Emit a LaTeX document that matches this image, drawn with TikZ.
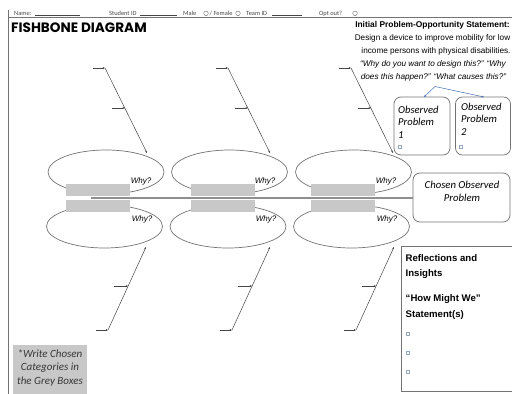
\documentclass[tikz,border=0pt]{standalone}
\usepackage{fontspec}
\setmainfont{Liberation Sans}
\newfontfamily\calib{Carlito}
\newfontfamily\popp{Poppins}
\usetikzlibrary{arrows.meta,shapes.geometric}
\definecolor{boxgrey}{RGB}{200,200,200}
\definecolor{linegrey}{RGB}{115,115,115}
\definecolor{bonegrey}{RGB}{70,70,70}
\definecolor{bluelink}{RGB}{70,110,175}
\definecolor{bulletc}{RGB}{150,165,195}
\definecolor{hdrgrey}{RGB}{70,70,70}
\tikzset{
  oval/.style={draw=linegrey, line width=0.7pt, ellipse, minimum width=116pt, minimum height=44pt, inner sep=0pt},
  gbox/.style={fill=boxgrey, minimum width=64pt, minimum height=12.5pt, inner sep=0pt},
  bone/.style={draw=bonegrey, line width=0.5pt, -{Stealth[length=2.4pt,width=2pt]}},
  why/.style={font=\itshape\fontsize{8}{9}\selectfont, inner sep=0pt},
  rbox/.style={draw=linegrey, line width=0.7pt, rounded corners=7pt, inner sep=0pt},
  hdr/.style={font=\calib\fontsize{6.4}{7}\selectfont, text=hdrgrey, inner sep=0pt, anchor=base west},
  hline/.style={draw=hdrgrey, line width=0.3pt},
  bul/.style={draw=bulletc, line width=0.5pt, minimum size=3.2pt, inner sep=0pt},
  blink/.style={draw=bluelink, line width=0.5pt, -{Stealth[length=2.4pt,width=2pt]}},
  refl/.style={font=\bfseries\fontsize{9.6}{11}\selectfont, inner sep=0pt, anchor=base west},
  stm/.style={anchor=base, inner sep=0pt, font=\fontsize{8.2}{10}\selectfont},
}
\begin{document}
\begin{tikzpicture}[x=1pt,y=-1pt]
\useasboundingbox (0,0) rectangle (512,394);
% frame
\draw[draw=linegrey, line width=0.6pt] (8,10) -- (8,394);
\draw[draw=linegrey, line width=0.6pt] (8,17.5) -- (512,17.5);
% header
\node[hdr] (hname) at (14,15.3) {Name:};
\draw[hline] (35,15.6) -- (80,15.6);
\node[hdr] (hsid) at (109,15.3) {Student ID};
\draw[hline] (140,15.6) -- (177,15.6);
\node[hdr] (hmale) at (183,15.3) {Male};
\node[draw=hdrgrey, line width=0.3pt, circle, minimum size=4.6pt, inner sep=0pt] (cm) at (206,13.3) {};
\node[hdr] (hfem) at (209.5,15.3) {/ Female};
\node[draw=hdrgrey, line width=0.3pt, circle, minimum size=4.6pt, inner sep=0pt] (cf) at (238,13.3) {};
\node[hdr] (hteam) at (246,15.3) {Team ID};
\draw[hline] (272,15.6) -- (302,15.6);
\node[hdr] (hopt) at (319,15.3) {Opt out?};
\node[draw=hdrgrey, line width=0.3pt, circle, minimum size=4.6pt, inner sep=0pt] (co) at (355,13.3) {};
% title
\node[anchor=base west, inner sep=0pt] (title) at (11,32.3) {\popp\bfseries\fontsize{13.6}{15}\selectfont FISHBONE DIAGRAM};
% statement
\node[stm, font=\fontsize{8.4}{10}\selectfont] (stmth) at (432.5,27) {\bfseries Initial Problem-Opportunity Statement:};
\node[stm] (st1) at (432.5,40) {Design a device to improve mobility for low};
\node[stm] (st2) at (436,53) {income persons with physical disabilities.};
\node[stm] (st3) at (433,66) {\itshape “Why do you want to design this?” “Why};
\node[stm] (st4) at (433.5,79) {\itshape does this happen?” “What causes this?”};
% observed boxes
\node[rbox, minimum width=56pt, minimum height=58pt] (ob1) at (422,126) {};
\node[rbox, minimum width=55pt, minimum height=58pt] (ob2) at (483,126) {};
\node[anchor=north west, inner sep=0pt, align=left, font=\calib\itshape\fontsize{10.6}{12.8}\selectfont] (ob1t) at (398,105.5) {Observed\\Problem\\1};
\node[anchor=north west, inner sep=0pt, align=left, font=\calib\itshape\fontsize{10.6}{12.8}\selectfont] (ob2t) at (461,102.5) {Observed\\Problem\\2};
\node[bul] (b1) at (400,147) {};
\node[bul] (b2) at (461,147) {};
\coordinate (fork) at (435,86.5);
\coordinate (ob1in) at (424,97);
\coordinate (ob2in) at (484,97);
\draw[blink] (fork) -- (ob1in);
\draw[blink] (fork) -- (ob2in);
% ellipses
\foreach \i/\cx/\cb in {1/106/104.5, 2/229.5/228, 3/353.5/351.5}{
  \node[oval] (et\i) at (\cx,172) {};
  \node[oval, minimum height=43pt] (eb\i) at (\cb,226.5) {};
}
% grey boxes
\foreach \i/\gx in {1/98, 2/222.5, 3/342.5}{
  \node[gbox] (gt\i) at (\gx,190) {};
  \node[gbox] (gb\i) at (\gx,206.2) {};
}
% why labels
\foreach \i/\wx in {1/141, 2/265, 3/386}{
  \node[why] (wt\i) at (\wx,181.5) {Why?};
  \node[why] (wb\i) at (\wx+1,219) {Why?};
}
% chosen box
\node[rbox, minimum width=97pt, minimum height=49pt] (chosen) at (461.5,197.5) {};
\node[align=center, inner sep=0pt, font=\calib\itshape\fontsize{10.7}{13.5}\selectfont] (chosent) at (462,191.5) {Chosen Observed\\Problem};
% spine
\coordinate (spst) at (91,198);
\draw[draw=linegrey!80, line width=1.1pt] (spst) -- (chosen.west |- spst);
% bones top
\foreach \i/\dx in {1/0, 2/123, 3/246}{
  \coordinate (ta\i) at (93+\dx,68);
  \coordinate (tb\i) at (105+\dx,68);
  \coordinate (tc\i) at (112+\dx,108);
  \coordinate (td\i) at (124.8+\dx,108);
  \coordinate (te\i) at (147+\dx,153);
  \draw[bone] (tb\i) -- (te\i);
  \draw[bone] (ta\i) -- (tb\i);
  \draw[bone] (tc\i) -- (td\i);
}
% bones bottom
\foreach \i/\dx in {1/0, 2/124, 3/248}{
  \coordinate (ba\i) at (96+\dx,330);
  \coordinate (bb\i) at (108+\dx,330);
  \coordinate (bc\i) at (114+\dx,286);
  \coordinate (bd\i) at (128.1+\dx,286);
  \coordinate (be\i) at (146+\dx,247);
  \draw[bone] (bb\i) -- (be\i);
  \draw[bone] (ba\i) -- (bb\i);
  \draw[bone] (bc\i) -- (bd\i);
}
% reflections box
\node[draw=linegrey, line width=0.6pt, anchor=north west, minimum width=113pt, minimum height=145pt, inner sep=0pt] (reflbox) at (401,246) {};
\node[refl] (r1) at (405.5,261.5) {Reflections and};
\node[refl] (r2) at (405.5,276.5) {Insights};
\node[refl] (r3) at (405.5,301.5) {“How Might We”};
\node[refl] (r4) at (405.5,317.5) {Statement(s)};
\node[bul] (rb1) at (408,334) {};
\node[bul] (rb2) at (408,353) {};
\node[bul] (rb3) at (408,371.5) {};
% note
\node[fill=boxgrey, minimum width=74pt, minimum height=50pt, inner sep=0pt] (note) at (50,369.5) {};
\node[align=center, inner sep=0pt, text={rgb,255:red,55;green,55;blue,55}, font=\calib\itshape\fontsize{11}{13.5}\selectfont] (notet) at (50,367.5) {*Write Chosen\\Categories in\\the Grey Boxes};
\end{tikzpicture}
\end{document}
